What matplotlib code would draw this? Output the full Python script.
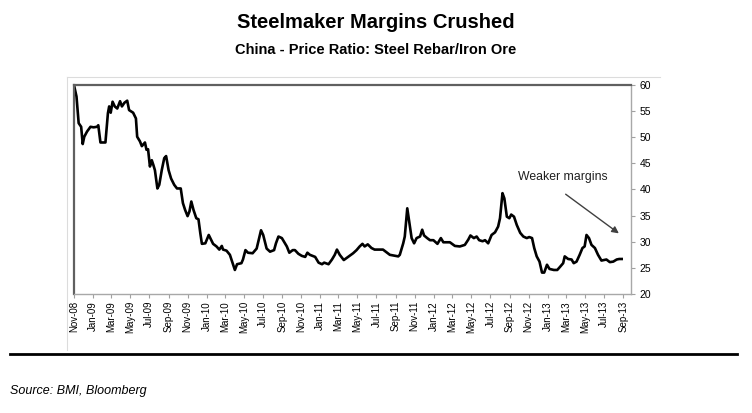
import matplotlib
matplotlib.use("Agg")
import matplotlib.pyplot as plt
import matplotlib.dates as mdates
from matplotlib.lines import Line2D
import pandas as pd

plt.rcParams['font.family'] = ['Liberation Sans', 'DejaVu Sans']

title = "Steelmaker Margins Crushed"
subtitle = "China - Price Ratio: Steel Rebar/Iron Ore"
source = "Source: BMI, Bloomberg"
note = "Weaker margins"

dates = [
    "2008-11-02", "2008-11-09", "2008-11-16", "2008-11-24", "2008-11-29", "2008-12-04",
    "2008-12-13", "2008-12-24", "2009-01-03", "2009-01-14", "2009-01-18", "2009-01-25",
    "2009-02-10", "2009-02-18", "2009-02-22", "2009-02-27", "2009-03-05", "2009-03-12",
    "2009-03-20", "2009-03-29", "2009-04-04", "2009-04-12", "2009-04-21", "2009-04-27",
    "2009-05-10", "2009-05-19", "2009-05-23", "2009-06-01", "2009-06-07", "2009-06-17",
    "2009-06-22", "2009-06-27", "2009-07-03", "2009-07-09", "2009-07-14", "2009-07-19",
    "2009-07-27", "2009-08-02", "2009-08-10", "2009-08-18", "2009-08-24", "2009-09-01",
    "2009-09-09", "2009-09-19", "2009-09-28", "2009-10-10", "2009-10-17", "2009-10-24",
    "2009-11-01", "2009-11-07", "2009-11-13", "2009-11-20", "2009-11-29", "2009-12-06",
    "2009-12-12", "2009-12-17", "2009-12-28", "2010-01-08", "2010-01-13", "2010-01-22",
    "2010-02-02", "2010-02-11", "2010-02-19", "2010-02-23", "2010-03-06", "2010-03-17",
    "2010-03-26", "2010-04-02", "2010-04-09", "2010-04-23", "2010-04-28", "2010-05-06",
    "2010-05-14", "2010-05-29", "2010-06-11", "2010-06-19", "2010-06-25", "2010-07-02",
    "2010-07-13", "2010-07-24", "2010-08-06", "2010-08-12", "2010-08-20", "2010-08-31",
    "2010-09-07", "2010-09-16", "2010-09-24", "2010-10-05", "2010-10-12", "2010-10-23",
    "2010-11-03", "2010-11-14", "2010-11-21", "2010-11-29", "2010-12-16", "2010-12-27",
    "2011-01-07", "2011-01-14", "2011-01-28", "2011-02-08", "2011-02-17", "2011-02-24",
    "2011-03-05", "2011-03-18", "2011-04-01", "2011-04-17", "2011-04-28", "2011-05-08",
    "2011-05-17", "2011-05-24", "2011-06-03", "2011-06-15", "2011-06-25", "2011-07-22",
    "2011-08-13", "2011-09-09", "2011-09-14", "2011-09-25", "2011-09-30", "2011-10-08",
    "2011-10-14", "2011-10-22", "2011-10-30", "2011-11-07", "2011-11-18", "2011-11-25",
    "2011-12-01", "2011-12-11", "2011-12-20", "2011-12-31", "2012-01-13", "2012-01-24",
    "2012-02-01", "2012-02-22", "2012-03-09", "2012-03-25", "2012-04-10", "2012-04-21",
    "2012-04-28", "2012-05-09", "2012-05-18", "2012-05-26", "2012-06-06", "2012-06-14",
    "2012-06-24", "2012-07-05", "2012-07-16", "2012-07-26", "2012-08-01", "2012-08-09",
    "2012-08-15", "2012-08-23", "2012-08-31", "2012-09-06", "2012-09-15", "2012-09-24",
    "2012-10-05", "2012-10-15", "2012-10-26", "2012-11-03", "2012-11-12", "2012-11-19",
    "2012-11-27", "2012-12-06", "2012-12-14", "2012-12-21", "2012-12-30", "2013-01-07",
    "2013-01-21", "2013-02-01", "2013-02-10", "2013-02-20", "2013-02-25", "2013-03-08",
    "2013-03-19", "2013-03-26", "2013-04-04", "2013-04-14", "2013-04-23", "2013-04-30",
    "2013-05-06", "2013-05-14", "2013-05-22", "2013-06-02", "2013-06-12", "2013-06-23",
    "2013-07-09", "2013-07-20", "2013-07-31", "2013-08-11", "2013-08-19", "2013-08-27",
]

ratio = [
    59.7, 57.8, 52.7, 52.0, 48.7, 50.1,
    51.1, 52.0, 51.9, 52.0, 52.3, 49.0,
    49.0, 54.6, 55.9, 54.7, 56.8, 55.9,
    55.5, 56.9, 55.9, 56.6, 57.0, 55.2,
    54.7, 53.6, 50.1, 49.2, 48.3, 49.0,
    47.6, 47.7, 44.4, 45.6, 44.7, 43.7,
    40.2, 40.9, 43.7, 46.0, 46.4, 43.7,
    42.1, 40.9, 40.2, 40.2, 37.4, 36.1,
    34.9, 35.8, 37.7, 36.1, 34.5, 34.3,
    31.6, 29.6, 29.7, 31.3, 30.7, 29.6,
    29.1, 28.5, 29.2, 28.5, 28.3, 27.5,
    25.9, 24.6, 25.7, 25.9, 26.6, 28.4,
    27.9, 27.8, 28.7, 30.7, 32.2, 31.3,
    28.7, 28.1, 28.4, 29.7, 31.0, 30.7,
    30.0, 29.1, 27.9, 28.4, 28.4, 27.7,
    27.3, 27.1, 27.9, 27.5, 27.1, 26.0,
    25.7, 26.0, 25.7, 26.6, 27.5, 28.5,
    27.5, 26.5, 27.1, 27.8, 28.4, 29.1,
    29.6, 29.1, 29.5, 28.8, 28.5, 28.5,
    27.5, 27.2, 27.5, 29.7, 31.0, 36.4,
    33.9, 30.7, 29.7, 30.7, 31.0, 32.3,
    31.2, 30.7, 30.3, 30.3, 29.6, 30.7,
    29.9, 29.9, 29.2, 29.1, 29.4, 30.4,
    31.2, 30.7, 31.0, 30.3, 30.1, 30.3,
    29.7, 31.3, 31.8, 32.9, 34.5, 39.3,
    38.3, 34.8, 34.5, 35.2, 34.8, 33.2,
    31.7, 31.0, 30.7, 30.9, 30.7, 28.8,
    27.2, 26.2, 24.1, 24.1, 25.6, 24.8,
    24.6, 24.6, 25.2, 25.9, 27.2, 26.7,
    26.6, 25.9, 26.2, 27.5, 28.8, 29.1,
    31.3, 30.7, 29.4, 28.8, 27.5, 26.4,
    26.6, 26.1, 26.2, 26.6, 26.7, 26.7,
]

y_ticks = [20, 25, 30, 35, 40, 45, 50, 55, 60]

x = pd.to_datetime(dates)

fig = plt.figure(figsize=(7.52, 4.13), dpi=100)
ax = fig.add_axes([74 / 752, 1 - 294 / 413, (631 - 74) / 752, (294 - 85) / 413])

ax.plot(x, ratio, color='black', linewidth=1.9, solid_joinstyle='round')

ax.set_ylim(20, 60)
ax.set_yticks(y_ticks)
ax.set_xlim(pd.Timestamp("2008-11-01"), pd.Timestamp("2013-09-26"))

ax.xaxis.set_major_locator(mdates.MonthLocator(bymonth=[1, 3, 5, 7, 9, 11]))
ax.xaxis.set_major_formatter(mdates.DateFormatter('%b-%y'))
ax.tick_params(axis='x', rotation=90, labelsize=7, length=3, width=0.8,
               color='#a0a0a0', pad=2)

ax.yaxis.tick_right()
ax.tick_params(axis='y', labelsize=7.5, length=3, width=0.8, color='#a0a0a0',
               pad=3, left=False)

for side in ['left', 'top']:
    ax.spines[side].set_color('#606060')
    ax.spines[side].set_linewidth(1.6)
for side in ['right', 'bottom']:
    ax.spines[side].set_color('#a8a8a8')
    ax.spines[side].set_linewidth(1.0)

ax.annotate('', xy=(pd.Timestamp("2013-08-18"), 31.6),
            xytext=(pd.Timestamp("2013-02-28"), 39.1),
            arrowprops=dict(arrowstyle='-|>', color='#404040', lw=1.0,
                            mutation_scale=10, shrinkA=0, shrinkB=0))
ax.text(pd.Timestamp("2012-09-28"), 42.3, note, fontsize=8.8, ha='left',
        va='center', color='#202020')

fig.text(0.5, 1 - 22 / 413, title, ha='center', va='center', fontsize=14.5,
         fontweight='bold')
fig.text(0.5, 1 - 50 / 413, subtitle, ha='center', va='center', fontsize=10.5,
         fontweight='bold')
fig.text(10 / 752, 1 - 391 / 413, source, ha='left', va='center', fontsize=9,
         style='italic')

# thin frame around chart area
fig.add_artist(Line2D([67 / 752, 67 / 752], [1 - 77 / 413, 1 - 350 / 413],
                      color='#dcdcdc', lw=0.8))
fig.add_artist(Line2D([67 / 752, 660 / 752], [1 - 77 / 413, 1 - 77 / 413],
                      color='#dcdcdc', lw=0.8))
# rule above source
fig.add_artist(Line2D([10 / 752, 737 / 752], [1 - 354 / 413, 1 - 354 / 413],
                      color='black', lw=2.0))

fig.savefig('out.png', dpi=100)
